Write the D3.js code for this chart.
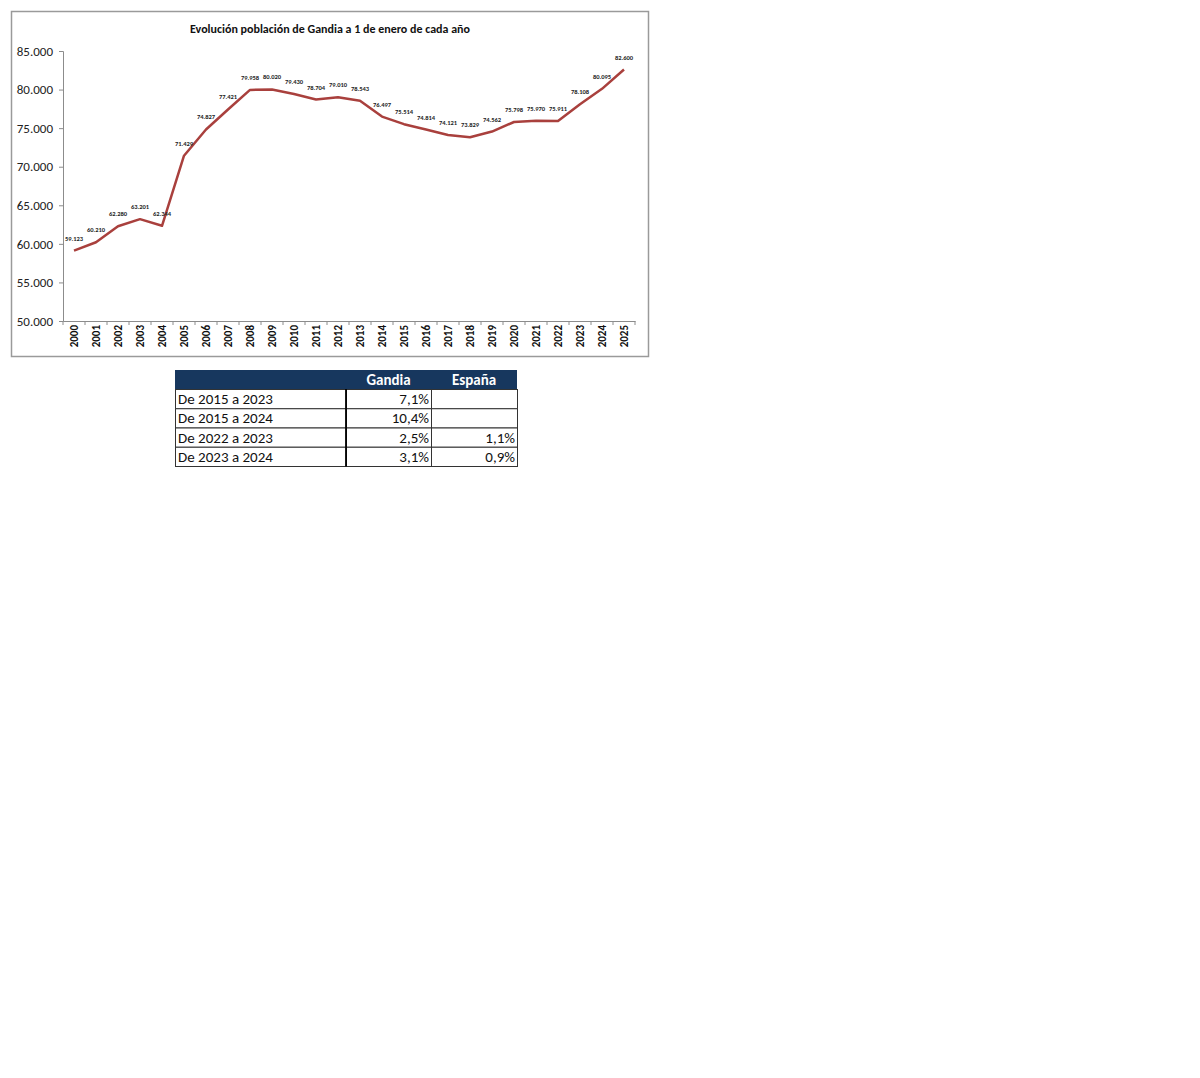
<!DOCTYPE html>
<html><head><meta charset="utf-8">
<script src="https://cdn.jsdelivr.net/npm/d3@7"></script>
<style>
body{margin:0;background:#fff;}
svg{display:block;}
</style></head>
<body>
<svg id="c" width="1200" height="1078"></svg>
<script>
const years = ["2000","2001","2002","2003","2004","2005","2006","2007","2008","2009","2010","2011","2012","2013","2014","2015","2016","2017","2018","2019","2020","2021","2022","2023","2024","2025"];
const population = [59123,60210,62280,63201,62344,71429,74827,77421,79958,80020,79430,78704,79010,78543,76497,75514,74814,74121,73829,74562,75798,75970,75911,78108,80095,82600];
const yTicks = [50000,55000,60000,65000,70000,75000,80000,85000];
const tableHeader = ["", "Gandia", "España"];
const tableRows = ["De 2015 a 2023","De 2015 a 2024","De 2022 a 2023","De 2023 a 2024"];
const gandiaPct = ["7,1%","10,4%","2,5%","3,1%"];
const espanaPct = ["","","1,1%","0,9%"];

const font = "Carlito, Lato, 'Open Sans', sans-serif";
const svg = d3.select("#c");
const fmt = d3.format(",");
const es = v => fmt(v).replace(/,/g, ".");

// chart frame
svg.append("rect").attr("x",11.5).attr("y",11.5).attr("width",637).attr("height",345)
  .attr("fill","#fff").attr("stroke","#9a9a9a").attr("stroke-width",1.5);

svg.append("text").attr("x",330).attr("y",33).attr("text-anchor","middle")
  .attr("font-family",font).attr("font-weight","bold").attr("font-size",12).attr("fill","#111")
  .text("Evolución población de Gandia a 1 de enero de cada año");

const x = d3.scaleBand().domain(years).range([63,635]);
const y = d3.scaleLinear().domain([50000,85000]).range([321,51]);

// y axis
const ya = svg.append("g").attr("transform","translate(63,0)")
  .call(d3.axisLeft(y).tickValues(yTicks).tickFormat(es).tickSize(4).tickPadding(6));
ya.selectAll("path,line").attr("stroke","#8c8c8c");
ya.selectAll("text").attr("font-family",font).attr("font-size",13).attr("fill","#222");

// x axis
const xa = svg.append("g").attr("transform","translate(0,321)")
  .call(d3.axisBottom(x).tickSize(0).tickPadding(0));
xa.select("path").attr("stroke","#8c8c8c");
xa.selectAll(".tick text").attr("font-family",font).attr("font-size",11).attr("font-weight","bold")
  .attr("fill","#111").attr("text-anchor","end").attr("transform","rotate(-90)")
  .attr("x",-4).attr("y",0).attr("dy","0.35em");
// separator ticks between bands
svg.append("g").selectAll("line").data(years.concat(["_end"])).join("line")
  .attr("x1",(d,i)=> x.range()[0] + i*x.step()).attr("x2",(d,i)=> x.range()[0] + i*x.step())
  .attr("y1",321).attr("y2",325).attr("stroke","#8c8c8c");

// line
const cx = d => x(d) + x.bandwidth()/2;
const line = d3.line().x((d,i)=>cx(years[i])).y(d=>y(d));
svg.append("path").datum(population).attr("d",line)
  .attr("fill","none").attr("stroke","#a9403d").attr("stroke-width",2.5).attr("stroke-linejoin","round");

// labels
svg.append("g").selectAll("text").data(population).join("text")
  .attr("x",(d,i)=>cx(years[i])).attr("y",d=>y(d)-10)
  .attr("text-anchor","middle").attr("font-family",font).attr("font-size",6.5).attr("font-weight","bold")
  .attr("fill","#222").text(d=>es(d));

// table
const colX = [175,346,431,517];
const rowY0 = 370, headH = 19, rowH = 19.25;
const fs = 15;
const tg = svg.append("g");
tg.append("rect").attr("x",colX[0]).attr("y",rowY0).attr("width",colX[3]-colX[0]).attr("height",headH).attr("fill","#17375e");
tableHeader.forEach((h,j)=>{
  if(!h) return;
  tg.append("text").attr("x",(colX[j]+colX[j+1])/2).attr("y",rowY0+headH/2+5)
    .attr("text-anchor","middle").attr("font-family",font).attr("font-weight","bold").attr("font-size",fs)
    .attr("fill","#fff").text(h);
});
tableRows.forEach((r,i)=>{
  const yy = rowY0+headH+i*rowH;
  [0,1,2].forEach(j=>{
    tg.append("rect").attr("x",colX[j]+0.5).attr("y",yy+0.5).attr("width",colX[j+1]-colX[j]).attr("height",rowH)
      .attr("fill","#fff").attr("stroke","#333").attr("stroke-width",1);
  });
  tg.append("text").attr("x",colX[0]+3).attr("y",yy+rowH/2+5.5).attr("font-family",font).attr("font-size",fs).attr("fill","#111").text(r);
  tg.append("text").attr("x",colX[2]-2).attr("y",yy+rowH/2+5.5).attr("text-anchor","end").attr("font-family",font).attr("font-size",fs).attr("fill","#111").text(gandiaPct[i]);
  tg.append("text").attr("x",colX[3]-2).attr("y",yy+rowH/2+5.5).attr("text-anchor","end").attr("font-family",font).attr("font-size",fs).attr("fill","#111").text(espanaPct[i]);
});
tg.append("line").attr("x1",colX[1]).attr("x2",colX[1]).attr("y1",rowY0+headH).attr("y2",rowY0+headH+4*rowH+0.5).attr("stroke","#000").attr("stroke-width",1.8);
</script>
</body></html>
